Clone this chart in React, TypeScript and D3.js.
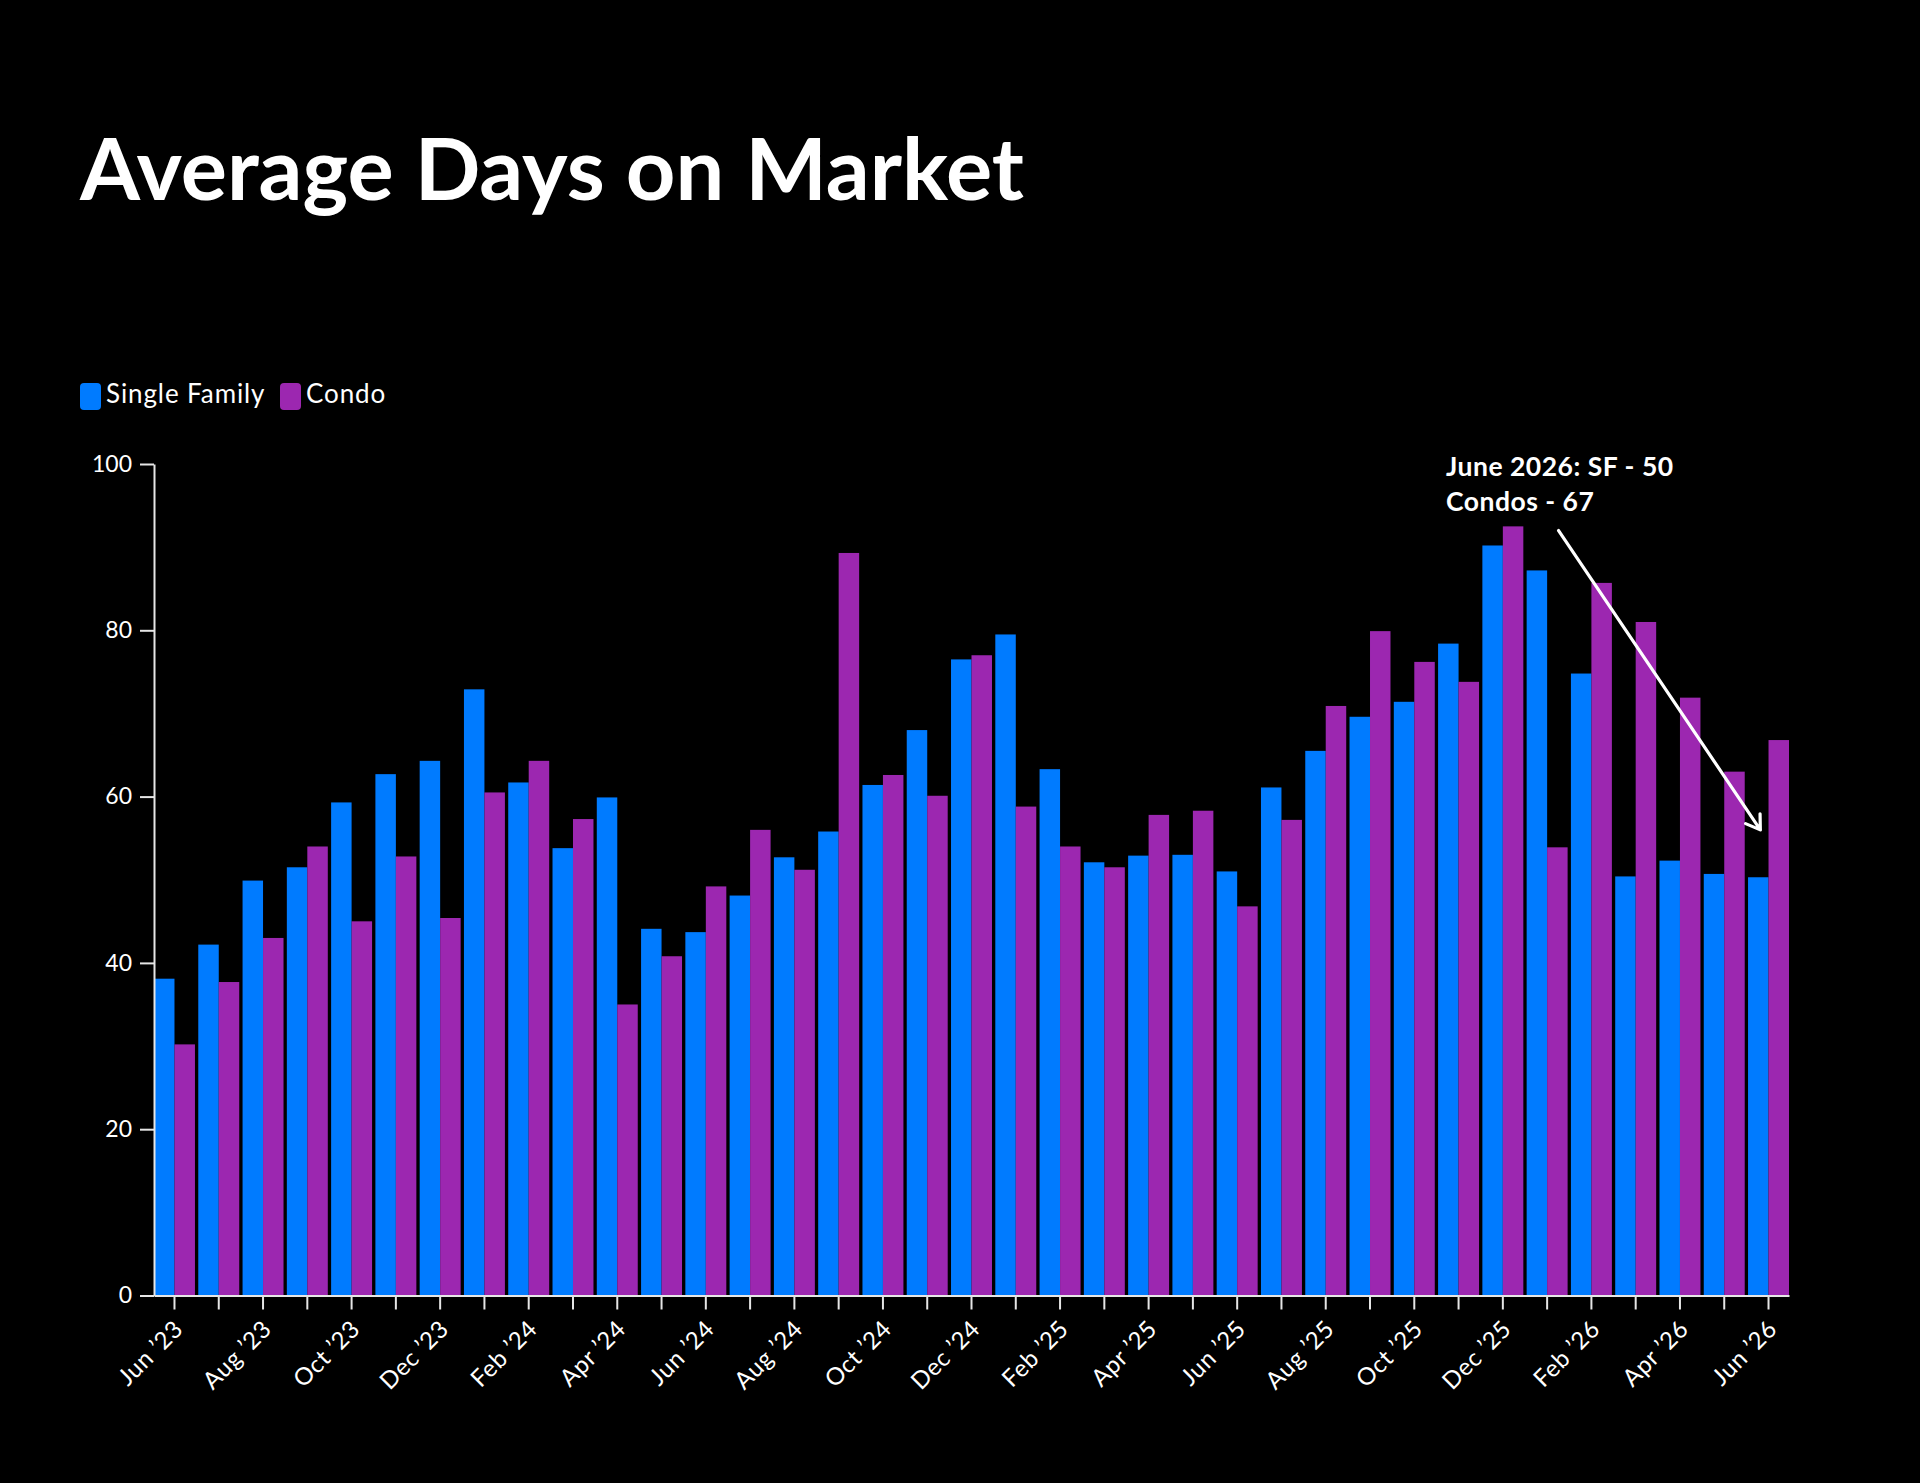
import React, { useEffect, useRef } from "react";
import * as d3 from "d3";

const months = [
  "Jun ’23", "Jul ’23", "Aug ’23", "Sep ’23", "Oct ’23", "Nov ’23", "Dec ’23",
  "Jan ’24", "Feb ’24", "Mar ’24", "Apr ’24", "May ’24", "Jun ’24", "Jul ’24",
  "Aug ’24", "Sep ’24", "Oct ’24", "Nov ’24", "Dec ’24",
  "Jan ’25", "Feb ’25", "Mar ’25", "Apr ’25", "May ’25", "Jun ’25", "Jul ’25",
  "Aug ’25", "Sep ’25", "Oct ’25", "Nov ’25", "Dec ’25",
  "Jan ’26", "Feb ’26", "Mar ’26", "Apr ’26", "May ’26", "Jun ’26",
];

const singleFamily = [
  38.1, 42.2, 49.9, 51.5, 59.3, 62.7, 64.3,
  72.9, 61.7, 53.8, 59.9, 44.1, 43.7, 48.1, 52.7, 55.8, 61.4, 68.0, 76.5,
  79.5, 63.3, 52.1, 52.9, 53.0, 51.0, 61.1, 65.5, 69.6, 71.4, 78.4, 90.2,
  87.2, 74.8, 50.4, 52.3, 50.7, 50.3,
];

const condo = [
  30.2, 37.7, 43.0, 54.0, 45.0, 52.8, 45.4,
  60.5, 64.3, 57.3, 35.0, 40.8, 49.2, 56.0, 51.2, 89.3, 62.6, 60.1, 77.0,
  58.8, 54.0, 51.5, 57.8, 58.3, 46.8, 57.2, 70.9, 79.9, 76.2, 73.8, 92.5,
  53.9, 85.7, 81.0, 71.9, 63.0, 66.8,
];

const seriesNames = ["Single Family", "Condo"];
const seriesColors = ["#007bff", "#9c27b0"];
const yTicks = [0, 20, 40, 60, 80, 100];
const title = "Average Days on Market";
const annotationLines = ["June 2026: SF - 50", "Condos - 67"];
// arrow: from (month, value) to (month, value)
const arrowFrom = { month: "Jan ’26", value: 92, frac: 0.78 };
const arrowTo = { month: "Jun ’26", value: 56, frac: 0.3 };

export default function App() {
  const ref = useRef<SVGSVGElement>(null);

  useEffect(() => {
    const W = 1920;
    const H = 1483;
    const svg = d3.select(ref.current);
    svg.selectAll("*").remove();
    const font = "Lato, 'Open Sans', sans-serif";

    svg.append("rect").attr("width", W).attr("height", H).attr("fill", "#000");

    const left = 154, right = 1789, top = 464, bottom = 1295.5;
    const x = d3.scaleBand<string>().domain(months).range([left, right]).paddingInner(0.075).paddingOuter(0);
    const y = d3.scaleLinear().domain([0, 100]).range([bottom, top]);
    const sub = d3.scaleBand<string>().domain(seriesNames).range([0, x.bandwidth()]).padding(0);

    // title
    svg.append("text")
      .attr("x", 80).attr("y", 200)
      .attr("fill", "#fff")
      .attr("font-family", font).attr("font-weight", 700).attr("font-size", 86.5)
      .text(title);

    // legend
    const legendX = [80, 280];
    const lg = svg.append("g");
    seriesNames.forEach((name, i) => {
      lg.append("rect")
        .attr("x", legendX[i]).attr("y", 383).attr("width", 21).attr("height", 27).attr("rx", 4)
        .attr("fill", seriesColors[i]);
      lg.append("text")
        .attr("x", legendX[i] + 26).attr("y", 403)
        .attr("fill", "#fff").attr("font-family", font).attr("font-size", 26)
        .attr("letter-spacing", 0.9)
        .text(name);
    });

    // bars
    const data = months.map((m, i) => ({ m, values: [singleFamily[i], condo[i]] }));
    const groups = svg.append("g").selectAll("g").data(data).join("g")
      .attr("transform", (d) => `translate(${x(d.m)},0)`);
    groups.selectAll("rect")
      .data((d) => d.values.map((v, j) => ({ v, name: seriesNames[j], color: seriesColors[j] })))
      .join("rect")
      .attr("x", (d) => sub(d.name) as number)
      .attr("width", sub.bandwidth())
      .attr("y", (d) => y(d.v))
      .attr("height", (d) => y(0) - y(d.v))
      .attr("fill", (d) => d.color);

    // x axis
    const xAxis = d3.axisBottom(x).tickSize(14).tickSizeOuter(0)
      .tickFormat((d, i) => (i % 2 === 0 ? d : ""));
    const gx = svg.append("g").attr("transform", `translate(0,${bottom})`).call(xAxis);
    gx.select(".domain").attr("stroke", "#e6e6e6").attr("stroke-width", 2);
    gx.selectAll(".tick line").attr("stroke", "#e6e6e6").attr("stroke-width", 2);
    gx.selectAll(".tick text")
      .attr("fill", "#fff").attr("font-family", font).attr("font-size", 24)
      .attr("letter-spacing", 0.6)
      .attr("text-anchor", "end")
      .attr("x", 0).attr("y", 0).attr("dy", 0)
      .attr("transform", "translate(10,35) rotate(-45)");

    // y axis
    const yAxis = d3.axisLeft(y).tickValues(yTicks).tickSize(14).tickSizeOuter(0).tickPadding(8);
    const gy = svg.append("g").attr("transform", `translate(${left},0)`).call(yAxis);
    gy.select(".domain").attr("stroke", "#e6e6e6").attr("stroke-width", 2);
    gy.selectAll(".tick line").attr("stroke", "#e6e6e6").attr("stroke-width", 2);
    gy.selectAll(".tick text")
      .attr("fill", "#fff").attr("font-family", font).attr("font-size", 23);

    // annotation
    const ann = svg.append("text")
      .attr("fill", "#fff").attr("font-family", font).attr("font-weight", 700).attr("font-size", 26.5)
      .attr("letter-spacing", 0.5);
    annotationLines.forEach((line, i) => {
      ann.append("tspan").attr("x", 1446).attr("y", 476 + i * 35).text(line);
    });

    const x1 = (x(arrowFrom.month) as number) + x.bandwidth() * arrowFrom.frac;
    const y1 = y(arrowFrom.value);
    const x2 = (x(arrowTo.month) as number) + x.bandwidth() * arrowTo.frac;
    const y2 = y(arrowTo.value);
    const ang = Math.atan2(y1 - y2, x1 - x2);
    const headLen = 16;
    const spread = (33 * Math.PI) / 180;
    const h1 = [x2 + headLen * Math.cos(ang + spread), y2 + headLen * Math.sin(ang + spread)];
    const h2 = [x2 + headLen * Math.cos(ang - spread), y2 + headLen * Math.sin(ang - spread)];
    svg.append("path")
      .attr("d", `M${x1},${y1}L${x2},${y2}M${h1[0]},${h1[1]}L${x2},${y2}L${h2[0]},${h2[1]}`)
      .attr("fill", "none").attr("stroke", "#fff").attr("stroke-width", 3.2)
      .attr("stroke-linecap", "round").attr("stroke-linejoin", "round");
  }, []);

  return (
    <div style={{ position: "absolute", left: 0, top: 0, width: 1920, height: 1483, background: "#000" }}>
      <svg ref={ref} width={1920} height={1483} style={{ display: "block" }} />
    </div>
  );
}
